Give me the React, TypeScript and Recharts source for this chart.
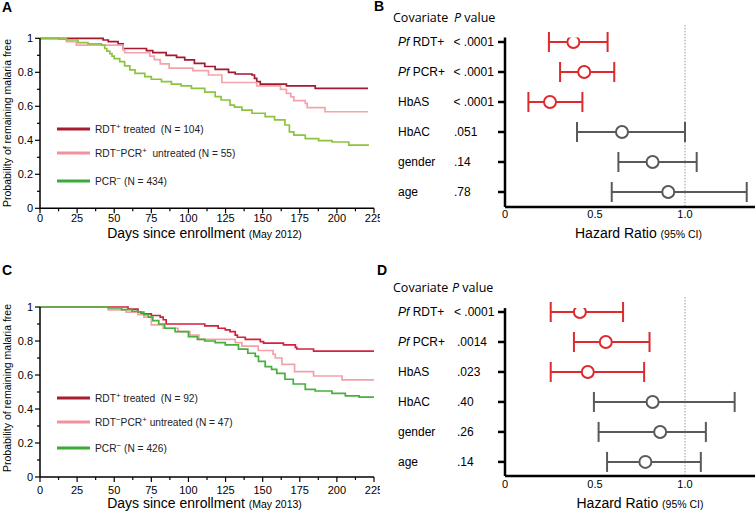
import React from 'react';
import {
  LineChart, Line, XAxis, YAxis, ScatterChart, Scatter, ErrorBar, ReferenceLine,
} from 'recharts';

// ---- Kaplan-Meier curves, [day, probability] pairs ----
const A_TREATED: [number, number][] = [
  [0, 1], [42.5, 0.99], [46, 0.98], [52.6, 0.967], [56, 0.94], [71.7, 0.927], [76, 0.916],
  [85, 0.9], [92, 0.888], [97.5, 0.873], [104, 0.853], [111, 0.834], [118, 0.817], [127, 0.8],
  [131.5, 0.79], [142.8, 0.784], [144.5, 0.764], [146, 0.745], [148.4, 0.73], [166, 0.72],
  [185.4, 0.705], [221, 0.705],
];
const A_UNTREATED: [number, number][] = [
  [0, 1], [17.8, 0.98], [24.5, 0.96], [56, 0.93], [57, 0.915], [74, 0.895], [77, 0.875],
  [81, 0.85], [87, 0.825], [103, 0.81], [113.5, 0.784], [122.5, 0.74], [146, 0.72], [162, 0.7],
  [166, 0.676], [169, 0.656], [171, 0.633], [178.7, 0.617], [180, 0.592], [192, 0.568], [221, 0.568],
];
const A_PCRNEG: [number, number][] = [
  [0, 1], [12.6, 0.995], [17.8, 0.99], [25.6, 0.975], [32.3, 0.967], [41.3, 0.96], [43.6, 0.94],
  [45, 0.925], [47, 0.91], [48.5, 0.895], [50, 0.88], [53.7, 0.863], [57, 0.838], [60.5, 0.814],
  [64, 0.794], [70.6, 0.775], [75, 0.759], [81.8, 0.745], [88.5, 0.731], [95, 0.72], [102, 0.706],
  [111, 0.683], [118, 0.657], [122, 0.637], [128, 0.607], [131, 0.595], [136, 0.578], [142.8, 0.559],
  [151.7, 0.539], [158, 0.52], [165, 0.49], [168, 0.45], [171, 0.43], [178.7, 0.41], [187.7, 0.398],
  [196.7, 0.39], [208, 0.372], [221, 0.366],
];

const C_TREATED: [number, number][] = [
  [0, 1], [59.3, 0.987], [66, 0.97], [68, 0.96], [75, 0.95], [81, 0.94], [83, 0.925], [85, 0.9],
  [111, 0.889], [120, 0.875], [124.8, 0.865], [128, 0.855], [131.5, 0.835], [133, 0.822],
  [138.3, 0.81], [148.4, 0.796], [150.6, 0.787], [164, 0.777], [172, 0.763], [173, 0.753],
  [184.3, 0.741], [225, 0.741],
];
const C_UNTREATED: [number, number][] = [
  [0, 1], [46, 0.983], [58, 0.97], [66, 0.955], [70, 0.94], [75, 0.895], [83, 0.875], [93, 0.855],
  [101, 0.835], [107, 0.81], [131.5, 0.79], [136, 0.77], [147, 0.744], [157, 0.722], [158.5, 0.7],
  [163, 0.663], [171.5, 0.62], [184.3, 0.594], [203.5, 0.571], [225, 0.571],
];
const C_PCRNEG: [number, number][] = [
  [0, 1], [46, 0.995], [55, 0.985], [62, 0.975], [66, 0.97], [70, 0.955], [73, 0.94], [76, 0.92],
  [80, 0.9], [84, 0.875], [91, 0.855], [100, 0.825], [106, 0.81], [111, 0.8], [118, 0.79],
  [124.8, 0.777], [133.7, 0.752], [140, 0.728], [145, 0.71], [147.2, 0.68], [151.7, 0.649],
  [156, 0.633], [159.5, 0.61], [165, 0.575], [170.6, 0.547], [178.7, 0.516], [185.4, 0.506],
  [196.7, 0.492], [205.7, 0.477], [215, 0.47], [225, 0.466],
];

const A_N = [104, 55, 434];
const C_N = [92, 47, 426];

const KM_X_TICKS = [0, 12.5, 25, 37.5, 50, 62.5, 75, 87.5, 100, 112.5, 125, 137.5, 150, 162.5, 175, 187.5, 200, 212.5, 225];
const KM_Y_TICKS = [0, 0.1, 0.2, 0.3, 0.4, 0.5, 0.6, 0.7, 0.8, 0.9, 1];

// ---- Cox model hazard ratios ----
const COVARIATES = ['Pf RDT+', 'Pf PCR+', 'HbAS', 'HbAC', 'gender', 'age'];
const SIGNIFICANT = [true, true, true, false, false, false];

const B_P = ['< .0001', '< .0001', '< .0001', '.051', '.14', '.78'];
const B_HR = [0.38, 0.44, 0.25, 0.65, 0.82, 0.907];
const B_LO = [0.244, 0.306, 0.13, 0.4, 0.63, 0.593];
const B_HI = [0.57, 0.607, 0.43, 1.0, 1.065, 1.343];

const D_P = ['< .0001', '.0014', '.023', '.40', '.26', '.14'];
const D_HR = [0.416, 0.56, 0.46, 0.82, 0.862, 0.78];
const D_LO = [0.254, 0.383, 0.254, 0.494, 0.52, 0.567];
const D_HI = [0.656, 0.803, 0.773, 1.276, 1.116, 1.088];

const HR_TICKS = [0, 0.5, 1];

const FONT = '"Liberation Sans", Arial, sans-serif';
const RED = '#dc2a2e';
const GRAY = '#595959';

const toPoints = (pts: [number, number][]) => pts.map(([d, s]) => ({ d, s }));

function KMXTick({ x, y, payload, labelDy }: any) {
  const v = payload.value;
  const major = v % 25 === 0;
  return (
    <g>
      <line x1={x} x2={x} y1={y} y2={y + (major ? 5 : 3)} stroke="#000" strokeWidth={1.2} />
      {major && (
        <text x={x} y={y + labelDy} textAnchor="middle" fontSize={11} fontFamily={FONT} fill="#000">{v}</text>
      )}
    </g>
  );
}

function KMYTick({ x, y, payload }: any) {
  const v = payload.value;
  const major = Math.round(v * 10) % 2 === 0;
  const label = v === 0 || v === 1 ? String(v) : v.toFixed(1);
  return (
    <g>
      <line x1={x - (major ? 5 : 3)} x2={x} y1={y} y2={y} stroke="#000" strokeWidth={1.2} />
      {major && (
        <text x={x - 7} y={y + 4} textAnchor="end" fontSize={11} fontFamily={FONT} fill="#000">{label}</text>
      )}
    </g>
  );
}

function KMChart({ series, colors, height, marginTop, xAxisHeight, labelDy }: any) {
  return (
    <LineChart width={380} height={height} margin={{ top: marginTop, right: 6, bottom: 0, left: 0 }}>
      <XAxis
        dataKey="d" type="number" domain={[0, 225]} ticks={KM_X_TICKS} interval={0}
        height={xAxisHeight} tickSize={0} tickMargin={0}
        axisLine={{ stroke: '#000', strokeWidth: 1.5 }} tickLine={false}
        tick={(p: any) => <KMXTick {...p} labelDy={labelDy} />}
        allowDataOverflow
      />
      <YAxis
        dataKey="s" type="number" domain={[0, 1]} ticks={KM_Y_TICKS} interval={0}
        width={40} tickSize={0} tickMargin={0}
        axisLine={{ stroke: '#000', strokeWidth: 1.5 }} tickLine={false}
        tick={(p: any) => <KMYTick {...p} />}
      />
      {series.map((s: [number, number][], i: number) => (
        <Line
          key={i} data={toPoints(s)} dataKey="s" type="stepAfter" stroke={colors[i]}
          strokeWidth={1.7} dot={false} activeDot={false} isAnimationActive={false}
        />
      ))}
    </LineChart>
  );
}

function ForestYTick({ y, payload, pvals, pxLt, pxOther }: any) {
  const i = payload.value;
  const name: string = COVARIATES[i];
  const p: string = pvals[i];
  const italic = name.startsWith('Pf ');
  return (
    <g>
      <line x1={118} x2={125} y1={y} y2={y} stroke="#000" strokeWidth={2.5} />
      <text x={18} y={y + 4} fontSize={12} fontFamily={FONT} fill="#000" style={{ whiteSpace: 'pre' }}>
        {italic ? (
          <>
            <tspan fontStyle="italic">Pf</tspan>
            <tspan>{name.slice(2)}</tspan>
          </>
        ) : name}
      </text>
      <text x={p.startsWith('<') ? pxLt : pxOther} y={y + 4} fontSize={12} fontFamily={FONT} fill="#000">{p}</text>
    </g>
  );
}

function ForestXTick({ x, y, payload, labelDy }: any) {
  const v = payload.value;
  const label = v === 1 ? '1.0' : String(v);
  return (
    <text x={x} y={y + labelDy} textAnchor="middle" fontSize={11} fontFamily={FONT} fill="#000">{label}</text>
  );
}

const Marker = (color: string) => (props: any) => (
  <circle cx={props.cx} cy={props.cy} r={6} fill="#fff" stroke={color} strokeWidth={2} />
);

function ForestChart({ hr, lo, hi, pvals, height, marginTop, xAxisHeight, yDomain, refTop, labelDy, pxLt, pxOther }: any) {
  const rows = hr.map((h: number, i: number) => ({ row: i, hr: h, err: [h - lo[i], hi[i] - h] }));
  const sig = rows.filter((_: any, i: number) => SIGNIFICANT[i]);
  const ns = rows.filter((_: any, i: number) => !SIGNIFICANT[i]);
  return (
    <ScatterChart width={375} height={height} margin={{ top: marginTop, right: 0, bottom: 0, left: 0 }}>
      <XAxis
        dataKey="hr" type="number" domain={[0, 1.389]} ticks={HR_TICKS} interval={0}
        height={xAxisHeight} tickSize={0} tickMargin={0} allowDataOverflow
        axisLine={{ stroke: '#000', strokeWidth: 2.5 }} tickLine={false}
        tick={(p: any) => <ForestXTick {...p} labelDy={labelDy} />}
      />
      <YAxis
        dataKey="row" type="number" domain={yDomain} reversed ticks={[0, 1, 2, 3, 4, 5]} interval={0}
        width={125} tickSize={0} tickMargin={0} allowDataOverflow
        axisLine={{ stroke: '#000', strokeWidth: 2.5 }} tickLine={false}
        tick={(p: any) => <ForestYTick {...p} pvals={pvals} pxLt={pxLt} pxOther={pxOther} />}
      />
      <ReferenceLine
        segment={[{ x: 1, y: refTop }, { x: 1, y: yDomain[1] }]}
        stroke="#999" strokeWidth={1} strokeDasharray="1.5 1.5" ifOverflow="visible"
      />
      <Scatter data={sig} shape={Marker(RED)} isAnimationActive={false}>
        <ErrorBar dataKey="err" direction="x" width={10} stroke={RED} strokeWidth={2} isAnimationActive={false} />
      </Scatter>
      <Scatter data={ns} shape={Marker(GRAY)} isAnimationActive={false}>
        <ErrorBar dataKey="err" direction="x" width={10} stroke={GRAY} strokeWidth={2} isAnimationActive={false} />
      </Scatter>
    </ScatterChart>
  );
}

const LEGEND_COLORS = ['#a81d32', '#f590a0', '#3aaa3a'];

function LegendBlock({ ys, n, wide }: { ys: number[]; n: number[]; wide: boolean }) {
  const t = { fontSize: 10.2, fontFamily: FONT, fill: '#222', style: { whiteSpace: 'pre' as const } };
  return (
    <g>
      {ys.map((y, i) => (
        <line key={i} x1={57} x2={90} y1={y} y2={y} stroke={LEGEND_COLORS[i]} strokeWidth={3} />
      ))}
      <text x={95} y={ys[0] + 4} {...t}>
        RDT<tspan dy={-4} fontSize={8}>+</tspan><tspan dy={4}>{` treated  (N = ${n[0]})`}</tspan>
      </text>
      <text x={95} y={ys[1] + 4} {...t}>
        RDT<tspan dy={-4} fontSize={8}>−</tspan><tspan dy={4}>PCR</tspan><tspan dy={-4} fontSize={8}>+</tspan>
        <tspan dy={4}>{`${wide ? '  ' : ' '}untreated (N = ${n[1]})`}</tspan>
      </text>
      <text x={95} y={ys[2] + 4} {...t}>
        PCR<tspan dy={-4} fontSize={8}>−</tspan><tspan dy={4}>{` (N = ${n[2]})`}</tspan>
      </text>
    </g>
  );
}

function Overlay() {
  const letter = { fontSize: 14, fontWeight: 700, fontFamily: FONT, fill: '#000' };
  const head = { fontSize: 12.5, fontFamily: '"Open Sans", sans-serif', fill: '#000' };
  return (
    <svg width={755} height={513} style={{ position: 'absolute', left: 0, top: 0, pointerEvents: 'none' }}>
      <text x={2} y={12} {...letter}>A</text>
      <text x={374} y={11} {...letter}>B</text>
      <text x={2} y={275} {...letter}>C</text>
      <text x={377} y={275} {...letter}>D</text>

      <text x={11} y={123} transform="rotate(-90 11 123)" textAnchor="middle" fontSize={10.5} fontFamily={FONT}>
        Probability of remaining malaria free
      </text>
      <text x={11} y={388} transform="rotate(-90 11 388)" textAnchor="middle" fontSize={10.5} fontFamily={FONT}>
        Probability of remaining malaria free
      </text>

      <text x={204.5} y={238} textAnchor="middle" fontFamily={FONT} fontSize={14}>
        Days since enrollment <tspan fontSize={10.5}>(May 2012)</tspan>
      </text>
      <text x={204.5} y={508} textAnchor="middle" fontFamily={FONT} fontSize={14}>
        Days since enrollment <tspan fontSize={10.5}>(May 2013)</tspan>
      </text>

      <text x={638.5} y={238} textAnchor="middle" fontFamily={FONT} fontSize={14}>
        Hazard Ratio <tspan fontSize={10.5}>(95% CI)</tspan>
      </text>
      <text x={640} y={508} textAnchor="middle" fontFamily={FONT} fontSize={14}>
        Hazard Ratio <tspan fontSize={10.5}>(95% CI)</tspan>
      </text>

      <text x={393} y={22} {...head}>Covariate</text>
      <text x={454} y={22} {...head}><tspan fontStyle="italic">P</tspan> value</text>
      <text x={393} y={292} {...head}>Covariate</text>
      <text x={452} y={292} {...head}><tspan fontStyle="italic">P</tspan> value</text>

      <LegendBlock ys={[129, 153, 181]} n={A_N} wide />
      <LegendBlock ys={[398, 422, 448]} n={C_N} wide={false} />
    </svg>
  );
}

export default function App() {
  return (
    <div style={{ position: 'absolute', left: 0, top: 0, width: 755, height: 513, background: '#fff', overflow: 'hidden' }}>
      <div style={{ position: 'absolute', left: 0, top: 0 }}>
        <KMChart
          series={[A_TREATED, A_UNTREATED, A_PCRNEG]}
          colors={['#a3192f', '#f5a3ab', '#8cc43f']}
          height={250} marginTop={38.3} xAxisHeight={41.7} labelDy={14}
        />
      </div>
      <div style={{ position: 'absolute', left: 0, top: 255 }}>
        <KMChart
          series={[C_TREATED, C_UNTREATED, C_PCRNEG]}
          colors={['#d5213f', '#f4a0aa', '#45b03a']}
          height={258} marginTop={52} xAxisHeight={36} labelDy={17}
        />
      </div>
      <div style={{ position: 'absolute', left: 380, top: 0 }}>
        <ForestChart
          hr={B_HR} lo={B_LO} hi={B_HI} pvals={B_P}
          height={250} marginTop={37.5} xAxisHeight={43} yDomain={[-0.15, 5.5]} refTop={-0.57}
          labelDy={11} pxLt={73.5} pxOther={74}
        />
      </div>
      <div style={{ position: 'absolute', left: 380, top: 255 }}>
        <ForestChart
          hr={D_HR} lo={D_LO} hi={D_HI} pvals={D_P}
          height={258} marginTop={53.1} xAxisHeight={37} yDomain={[-0.13, 5.47]} refTop={-0.5}
          labelDy={12} pxLt={74} pxOther={77}
        />
      </div>
      <Overlay />
    </div>
  );
}
